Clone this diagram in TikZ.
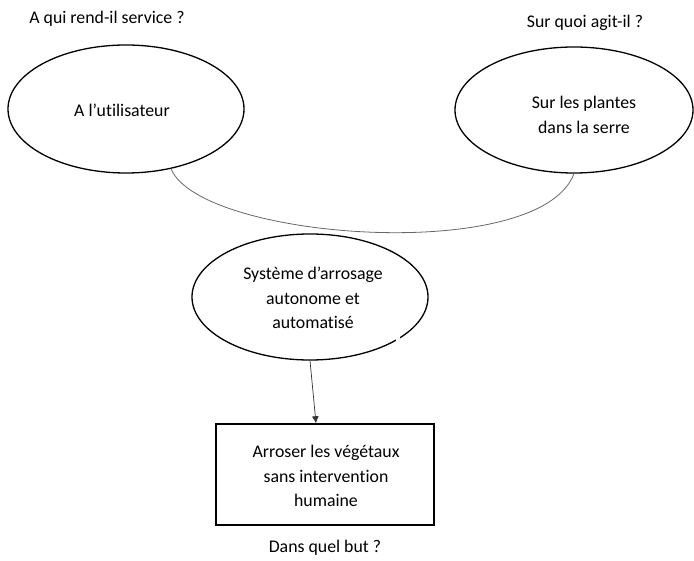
\documentclass[tikz,border=0pt]{standalone}
\usepackage{fontspec}
\setmainfont{Carlito}[RawFeature={-liga}]
\usetikzlibrary{shapes.geometric,arrows.meta}
\tikzset{
	bulle/.style={draw, ellipse, line width=1.3pt, inner sep=0pt},
	texte/.style={align=center, inner sep=0pt, font=\fontsize{17.8}{24.5}\selectfont},
}

\begin{document}
\begin{tikzpicture}[x=1pt, y=-1pt]
			%%%%% START %%%%%
			
			\useasboundingbox (0, 0) rectangle (694, 561);
			
			\node[texte] (q1) at (107, 19) {A qui rend-il service ?};
			\node[texte] (q2) at (585, 23) {Sur quoi agit-il ?};
			
			\node[bulle, minimum width=236pt, minimum height=128pt] (user) at (126, 109) {};
			\node[texte] (usertxt) at (122, 110) {A l’utilisateur};
			
			\node[bulle, minimum width=238pt, minimum height=126pt] (serre) at (574, 110) {};
			\node[texte] (serretxt) at (584, 115) {Sur les plantes\\dans la serre};
			
			\node[bulle, minimum width=236pt, minimum height=126pt] (sys) at (310, 297) {};
			\node[texte] (systxt) at (313, 298) {Système d’arrosage\\autonome et\\automatisé};
			\fill[white] (396, 333) rectangle (400, 341);
			
			\node[draw, line width=1.5pt, minimum width=218pt, minimum height=101pt] (goal) at (325, 474.5) {};
			\node[texte] (goaltxt) at (326, 476) {Arroser les végétaux\\sans intervention\\humaine};
			
			\node[texte] (q3) at (325, 548) {Dans quel but ?};
			
			\draw[line width=0.8pt, color=black!60] (user.-53) .. controls (200, 240) and (540, 265) .. (serre.south);
			\draw[line width=0.7pt, color=black!80, -{Latex[length=7pt, width=7pt]}] (sys.south) -- ([xshift=-9pt]goal.north);
			
			%%%%% END %%%%%
		\end{tikzpicture}
\end{document}
